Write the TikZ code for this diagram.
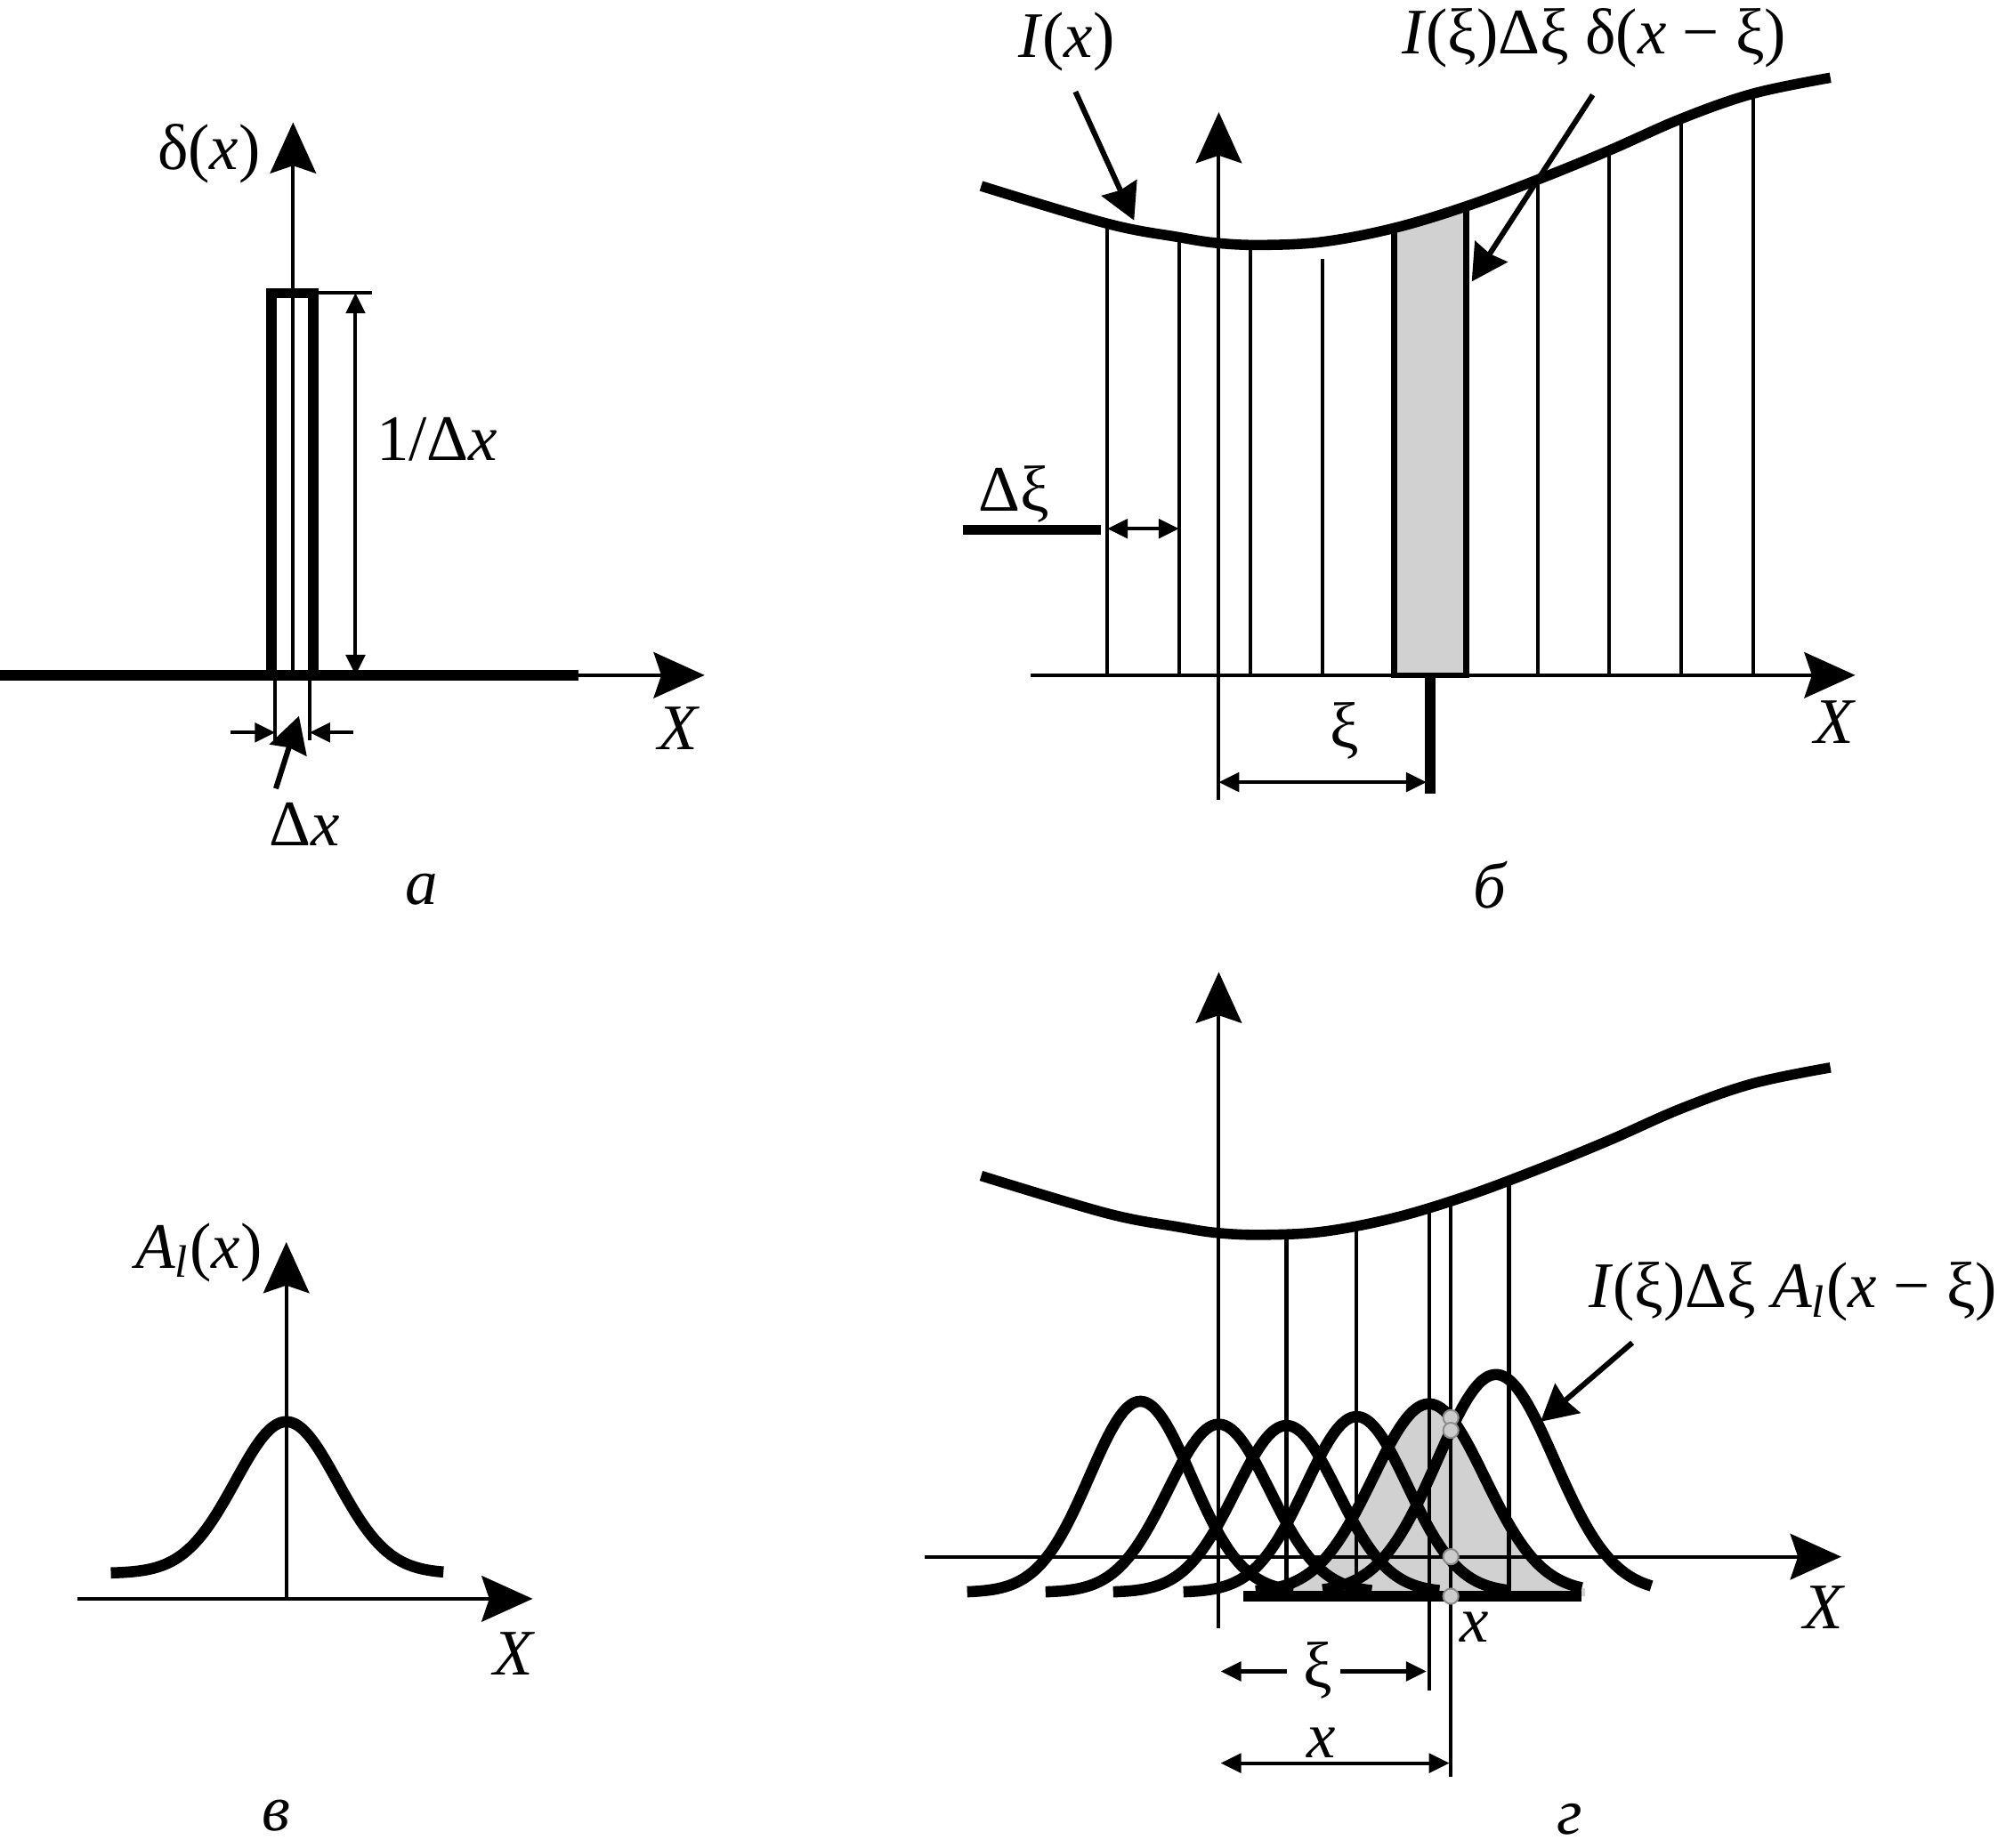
\documentclass[tikz,border=0pt]{standalone}
\usepackage{fontspec}
\setmainfont{Liberation Serif}
\usetikzlibrary{arrows.meta, positioning}

\definecolor{stripgray}{gray}{0.82}
\definecolor{dotgray}{gray}{0.80}
\definecolor{dotedge}{gray}{0.55}

\begin{document}
\begin{tikzpicture}[
    x=0.01cm, y=-0.01cm,
    font=\fontsize{14.5}{17}\selectfont,
    thinline/.style={line width=0.8pt},
    thickline/.style={line width=2.3pt},
    edgeline/.style={line width=1.3pt},
    curveline/.style={line width=2.5pt, line join=round},
    axis/.style={thinline, -{Stealth[length=0.4cm, width=0.36cm, inset=0.06cm]}},
    dim/.style={thinline, {Triangle[length=0.16cm, width=0.15cm]}-{Triangle[length=0.16cm, width=0.15cm]}},
    dimto/.style={thinline, -{Triangle[length=0.16cm, width=0.15cm]}},
    pointer/.style={line width=1.2pt, -{Stealth[length=0.28cm, width=0.3cm, inset=0.02cm]}},
    lbl/.style={inner sep=0pt},
    dot/.style={circle, draw=dotedge, fill=dotgray, line width=0.4pt, minimum size=0.12cm, inner sep=0pt}
]
\useasboundingbox (0,0) rectangle (1568,1450);

% Panel a: delta pulse
\coordinate (aXstart) at (0,530);
\coordinate (aXmid) at (454,530);
\coordinate (aXend) at (553,530);
\coordinate (aYstart) at (230,530);
\coordinate (aYend) at (230,96);
\draw[thickline] (aXstart) -- (aXmid);
\draw[axis] (aXmid) -- (aXend);
\draw[thickline] (213,530) |- (246,230) -- (246,530);
\draw[axis] (aYstart) -- (aYend);
\draw[thinline] (246,230) -- (292,230);
\draw[dim] (279,230) -- (279,530);
\draw[thinline] (216,530) -- (216,581);
\draw[thinline] (243,530) -- (243,581);
\coordinate (dxLeft) at (181,575);
\coordinate (dxRight) at (277,575);
\draw[dimto] (dxLeft) -- (216,575);
\draw[dimto] (dxRight) -- (243,575);
\node[lbl] (deltaLabel) at (164,121) {δ(\textit{x})};
\node[lbl] (heightLabel) at (343,345) {1/Δ\textit{x}};
\node[lbl] (widthLabel) at (239,647) {Δ\textit{x}};
\coordinate (widthTip) at (234.6,562);
\draw[pointer] (216.5,619) -- (widthTip);
\node[lbl] (aX) at (533,572) {\textit{X}};
\node[lbl] (aCap) at (331,698) {\textit{а}};

% Panel b: image split into strips
\fill[stripgray] (1094.2,530) -- (1094.2,179) -- (1150.5,162) -- (1150.5,530) -- cycle;
\draw[edgeline] (1094.2,179) -- (1094.2,530) -- (1150.5,530) -- (1150.5,162);
\foreach \vx/\vy in {869/175.5, 925.3/186.2, 981.6/192, 1037.9/203.5, 1206.8/141, 1263.1/118, 1319.4/93.2, 1375.7/73.5}
    \draw[thinline] (\vx,530) -- (\vx,\vy);
\draw[axis] (809,530) -- (1456,530);
\draw[axis] (956.5,628) -- (956.5,88);
\draw[thickline] (1122.3,530) -- (1122.3,623);
\draw[dim] (956.5,614) -- (1119.5,614);
\draw[thickline] (756,416) -- (864,416);
\draw[dim] (869,415) -- (925.3,415);
\node[lbl] (dxiLabel) at (796,388) {Δξ};
\node[lbl] (xiLabel) at (1055,574) {ξ};
\node[lbl] (IxLabel) at (837,33) {\textit{I}(\textit{x})};
\node[lbl] (stripLabel) at (1251,30) {\textit{I}(ξ)Δξ δ(\textit{x} − ξ)};
\coordinate (IxFrom) at (844,72);
\coordinate (IxTo) at (890,173);
\coordinate (stripFrom) at (1250,74.5);
\coordinate (stripTo) at (1155,221);
\draw[pointer] (IxFrom) -- (IxTo);
\draw[pointer] (stripFrom) -- (stripTo);
\node[lbl] (bX) at (1440,567) {\textit{X}};
\node[lbl] (bCap) at (1170,695) {\textit{б}};

% I(x) curve, in panels b and d
\foreach \dy in {0,777}
    \draw[thickline, shift={(0,\dy)}] plot[smooth, tension=0.6] coordinates {(770,146) (869,175.5) (925.3,186.2) (956.5,190.9) (992,192.3) (1039,189.7) (1094.2,179) (1150.5,162) (1206.8,141) (1263.1,118) (1319.4,93.2) (1375.7,73.5) (1436.5,61)};

% Panel c: point spread function
\draw[axis] (61,1255) -- (418,1255);
\draw[axis] (224.7,1255) -- (224.7,975);
\draw[curveline] plot[domain=87:348, samples=80, smooth] (\x,{1235-119*exp(-0.5*((\x-224.7)/40)^2)});
\node[lbl] (psfLabel) at (156,983) {\textit{A}\textsubscript{\textit{l}}(\textit{x})};
\node[lbl] (cX) at (404,1298) {\textit{X}};
\node[lbl] (cCap) at (217,1425) {\textit{в}};

% Panel d: sum of shifted responses
\fill[stripgray] plot[domain=984:1244, samples=60] (\x,{1250-148*exp(-0.5*((\x-1121.4)/44)^2)}) -- (1244,1253) -- (984,1253) -- cycle;
\draw[axis] (726,1222) -- (1445,1222);
\draw[axis] (956.5,1278) -- (956.5,763);
\foreach \vx/\vy in {1009.6/969, 1064.7/962, 1184.2/927}
    \draw[thinline] (\vx,1250) -- (\vx,\vy);
\draw[thinline] (1121.4,1327) -- (1121.4,948);
\draw[thinline] (1138.6,1395) -- (1138.6,943);
\foreach \gc/\gh/\gs/\gr in {895/150/40/120, 956.5/132/40/120, 1009.6/131/40/120, 1064.7/138/40/120, 1121.4/148/44/120, 1174/171/46/122}
    \draw[curveline] plot[domain=\gc-136:\gc+\gr, samples=80, smooth] (\x,{1250-\gh*exp(-0.5*((\x-\gc)/\gs)^2)});
\draw[thickline] (976,1253) -- (1241,1253);
\node[dot] (dotA) at (1138.6,{1250-148*exp(-0.5*((1138.6-1121.4)/44)^2)}) {};
\node[dot] (dotB) at (1138.6,{1250-171*exp(-0.5*((1138.6-1174)/46)^2)}) {};
\node[dot] (dotC) at (1138.6,1222) {};
\node[dot] (dotD) at (1138.6,1253) {};
\node[lbl] (xiMark) at (1034,1311) {ξ};
\coordinate (xiLeft) at (1010,1312);
\coordinate (xiRight) at (1052,1312);
\draw[dimto] (xiLeft) -- (958,1312);
\draw[dimto] (xiRight) -- (1119.5,1312);
\draw[dim] (958,1384) -- (1137.5,1384);
\node[lbl] (xMark) at (1037,1368) {\textit{x}};
\node[lbl] (xPoint) at (1157,1277) {\textit{x}};
\node[lbl] (convLabel) at (1407,1014) {\textit{I}(ξ)Δξ \textit{A}\textsubscript{\textit{l}}(\textit{x} − ξ)};
\coordinate (convFrom) at (1281,1054);
\coordinate (convTo) at (1209,1116);
\draw[pointer] (convFrom) -- (convTo);
\node[lbl] (dX) at (1432,1262) {\textit{X}};
\node[lbl] (dCap) at (1232,1428) {\textit{г}};

\end{tikzpicture}
\end{document}
